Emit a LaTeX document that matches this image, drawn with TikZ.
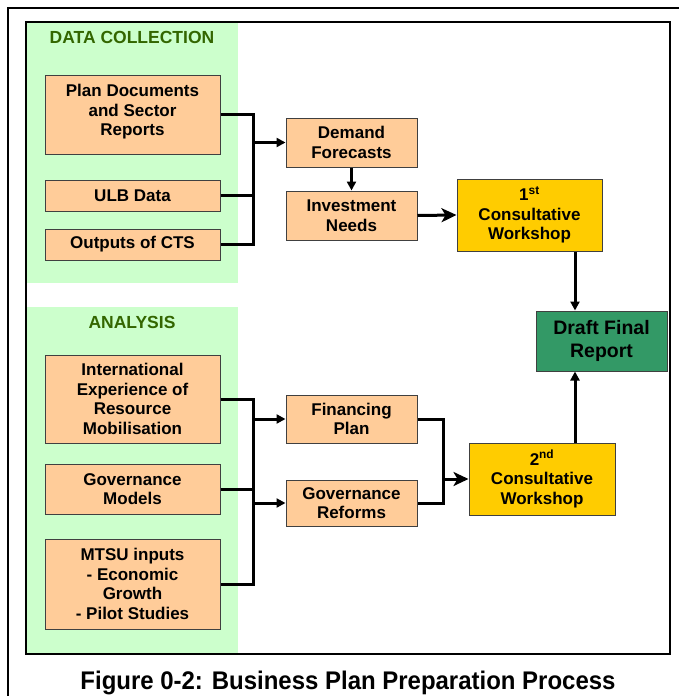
\documentclass[tikz,border=0pt]{standalone}
\usepackage{fontspec}
\setmainfont{Liberation Sans}
\usetikzlibrary{positioning,arrows.meta,calc}

\definecolor{peach}{HTML}{FFCC99}
\definecolor{mint}{HTML}{CCFFCC}
\definecolor{gold}{HTML}{FFCC00}
\definecolor{reportgreen}{HTML}{339966}
\definecolor{headgreen}{HTML}{336600}

\begin{document}
\begin{tikzpicture}[x=1pt, y=-1pt,
    box/.style={draw=black!75, line width=1pt, fill=peach, align=center, inner sep=0pt,
                font=\fontsize{17}{19.5}\selectfont\bfseries},
    wide/.style={box, minimum width=175pt},
    mid/.style={box, minimum width=131pt},
    workshop/.style={box, fill=gold, minimum width=145pt, minimum height=72pt},
    panel/.style={fill=mint, draw=none},
    heading/.style={font=\fontsize{17.5}{20}\selectfont\bfseries, text=headgreen},
    link/.style={line width=3pt, line join=miter},
    tip/.style={link, -{Triangle[length=9pt,width=9pt]}},
    bigtip/.style={link, -{Stealth[length=15pt,width=14pt,inset=4pt]}}]
    \useasboundingbox (0,0) rectangle (679,696);

    % frames and shaded columns
    \draw[line width=2pt] (8,8) rectangle (700,720);
    \fill[panel] (27,22) rectangle (238,283);
    \fill[panel] (27,307) rectangle (238,654);
    \draw[line width=2.2pt] (26,22) rectangle (670,654);

    \node[heading] (hdata) at (132,37) {DATA COLLECTION};
    \node[heading] (hanal) at (132,322) {ANALYSIS};

    % data collection
    \node[wide, minimum height=79pt] (plan) at (132.5,114.5) {Plan Documents\\and Sector\\Reports\\[-10.5pt]};
    \node[wide, minimum height=31pt, below=25pt of plan] (ulb) {ULB Data};
    \node[wide, minimum height=31pt, below=17pt of ulb] (cts) {Outputs of CTS};

    \node[mid, minimum height=49pt] (demand) at (351.5,142.5) {Demand\\Forecasts};
    \node[mid, minimum height=49pt, below=23pt of demand] (invest) {Investment\\Needs};
    \node[workshop] (ws1) at (529.5,215) {1\textsuperscript{st}\\Consultative\\Workshop};

    \node[box, fill=reportgreen, minimum width=131pt, minimum height=60pt,
          font=\fontsize{19.5}{23}\selectfont\bfseries] (dfr) at (601.5,341) {Draft Final\\Report};

    % analysis
    \node[wide, minimum height=88pt] (intl) at (132.5,399) {International\\Experience of\\Resource\\Mobilisation};
    \node[wide, minimum height=50pt, below=20pt of intl] (gov) {Governance\\Models};
    \node[wide, minimum height=90pt, below=24pt of gov] (mtsu) {MTSU inputs\\- Economic\\Growth\\- Pilot Studies};

    \node[mid, minimum height=48pt] (fin) at (351.5,419) {Financing\\Plan};
    \node[mid, minimum height=46pt, below=36pt of fin] (govref) {Governance\\Reforms};
    \node[workshop, minimum width=146pt] (ws2) at (542,479) {2\textsuperscript{nd}\\Consultative\\Workshop};

    % connectors
    \coordinate (busA) at (253,0);
    \coordinate (busB) at (443,0);
    \coordinate (drop) at (575,0);

    \draw[link] (plan.east) -| (busA |- cts.east) -- (cts.east);
    \draw[link] (ulb.east) -- (ulb.east -| busA);
    \draw[tip] (busA |- demand.west) -- (demand.west);
    \draw[tip] (demand.south) -- (invest.north);
    \draw[bigtip] (invest.east) -- (ws1.west);
    \draw[tip] (drop |- ws1.south) -- (drop |- dfr.north);

    \draw[link] (intl.east) -| (busA |- mtsu.east) -- (mtsu.east);
    \draw[link] (gov.east) -- (gov.east -| busA);
    \draw[tip] (busA |- fin.west) -- (fin.west);
    \draw[tip] (busA |- govref.west) -- (govref.west);
    \draw[link] (fin.east) -| (busB |- govref.east) -- (govref.east);
    \draw[bigtip] (busB |- ws2.west) -- (ws2.west);
    \draw[tip] (drop |- ws2.north) -- (drop |- dfr.south);

    \node[anchor=base, font=\fontsize{25.5}{30}\selectfont\bfseries] (caption) at (348,689.5)
        {\scalebox{0.94}[1]{Figure 0-2: Business Plan Preparation Process}};
\end{tikzpicture}
\end{document}
